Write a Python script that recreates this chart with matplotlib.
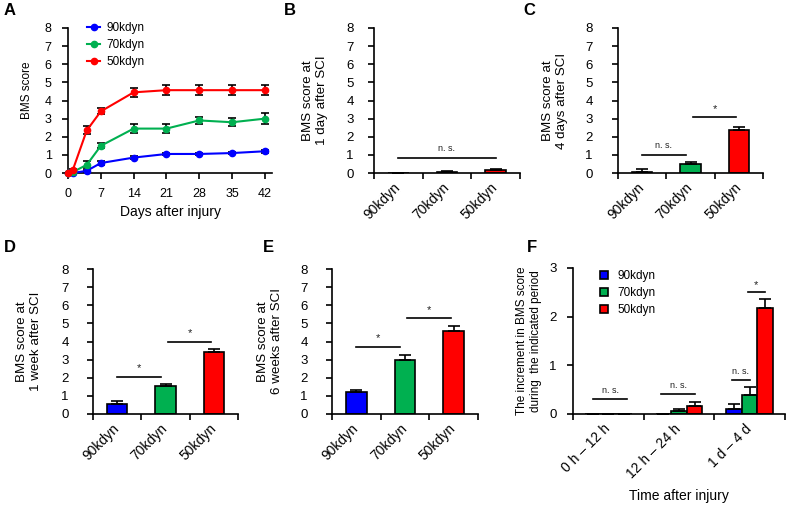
import numpy as np
import matplotlib.pyplot as plt

plt.rcParams['font.family'] = ['Liberation Sans', 'DejaVu Sans']
plt.rcParams['axes.linewidth'] = 1.2

GROUPS = ["90kdyn", "70kdyn", "50kdyn"]
COLORS = ["#0000ff", "#00b050", "#ff0000"]

# panel A: time course
DAYS = [0, 1, 4, 7, 14, 21, 28, 35, 42]
bms_90 = [0, 0, 0.12, 0.55, 0.85, 1.05, 1.05, 1.1, 1.2]
bms_90_err = [0, 0, 0.05, 0.12, 0.07, 0.07, 0.07, 0.07, 0.07]
bms_70 = [0, 0.05, 0.45, 1.5, 2.45, 2.45, 2.9, 2.8, 3.0]
bms_70_err = [0, 0.03, 0.2, 0.13, 0.27, 0.25, 0.2, 0.22, 0.3]
bms_50 = [0, 0.15, 2.35, 3.4, 4.45, 4.57, 4.57, 4.57, 4.57]
bms_50_err = [0, 0.06, 0.22, 0.17, 0.24, 0.29, 0.29, 0.29, 0.29]

# panels B-E: single time points
day1 = [0, 0.07, 0.18]
day1_err = [0, 0.03, 0.06]
day4 = [0.07, 0.47, 2.35]
day4_err = [0.13, 0.13, 0.21]
week1 = [0.57, 1.52, 3.41]
week1_err = [0.13, 0.11, 0.17]
week6 = [1.21, 3.0, 4.58]
week6_err = [0.11, 0.28, 0.27]

# panel F: increments
PERIODS = ["0 h \u2013 12 h", "12 h \u2013 24 h", "1 d \u2013 4 d"]
inc_90 = [0, 0, 0.1]
inc_90_err = [0, 0, 0.1]
inc_70 = [0, 0.055, 0.39]
inc_70_err = [0, 0.055, 0.17]
inc_50 = [0, 0.17, 2.18]
inc_50_err = [0, 0.08, 0.19]

W, H = 787, 505
fig = plt.figure(figsize=(W / 100, H / 100), dpi=100)


def px_axes(x0, x1, ytop, ybot):
    ax = fig.add_axes([x0 / W, 1 - ybot / H, (x1 - x0) / W, (ybot - ytop) / H])
    ax._px = (x0, x1, ytop, ybot)
    return ax


def style(ax, ypad_px, fs=9.5):
    for s in ["top", "right"]:
        ax.spines[s].set_visible(False)
    ax.tick_params(direction="out", length=4.5, width=1.2, labelsize=fs)
    ax.tick_params(axis="y", pad=ypad_px * 0.72)


def ylabel_at(ax, text, right_px, fs, yc=0.5):
    x0, x1, _, _ = ax._px
    ax.set_ylabel(text, fontsize=fs, linespacing=1.2)
    ax.yaxis.set_label_coords((right_px - x0) / (x1 - x0), yc)


def cat_ticks(ax, labels, fs=10):
    x = np.arange(len(labels))
    ax.set_xlim(-0.5, len(labels) - 0.5)
    ax.set_xticks(np.arange(len(labels) + 1) - 0.5)
    ax.set_xticklabels([])
    ax.set_xticks(x, minor=True)
    ax.set_xticklabels(labels, minor=True, rotation=45, ha="right", va="center",
                       rotation_mode="anchor", fontsize=fs)
    ax.tick_params(axis="x", which="minor", length=0, pad=9)


def sig(ax, x0, x1, y, txt, off, fs):
    ax.plot([x0, x1], [y, y], color="black", lw=1.2, clip_on=False)
    ax.text((x0 + x1) / 2, y + off, txt, ha="center", va="bottom", fontsize=fs,
            color="#222222")


ERR_KW = dict(elinewidth=1.2, capthick=1.2, ecolor="black")


def bar_panel(ax, vals, errs, lines):
    x = np.arange(len(GROUPS))
    ax.bar(x, vals, width=0.42, color=COLORS, edgecolor="black", linewidth=1.2,
           yerr=[np.zeros(len(errs)), errs], capsize=4, error_kw=ERR_KW)
    ax.set_ylim(0, 8)
    ax.set_yticks(range(0, 9))
    cat_ticks(ax, GROUPS)
    for x0, x1, y, t in lines:
        if t == "n. s.":
            sig(ax, x0, x1, y, t, 0.25, 6.5)
        else:
            sig(ax, x0, x1, y, t, 0.2, 8)


# A
axA = px_axes(68, 272, 28, 173)
style(axA, 10, fs=9)
for vals, errs, c, lab in [(bms_90, bms_90_err, COLORS[0], GROUPS[0]),
                           (bms_70, bms_70_err, COLORS[1], GROUPS[1]),
                           (bms_50, bms_50_err, COLORS[2], GROUPS[2])]:
    axA.errorbar(DAYS, vals, yerr=errs, color=c, lw=1.5, marker="o", ms=4.5,
                 ecolor="black", elinewidth=1.2, capsize=3, capthick=1.2,
                 label=lab, clip_on=False, zorder=3)
axA.set_xlim(0, 43.5)
axA.set_ylim(0, 8)
axA.set_xticks(range(0, 43, 7))
axA.set_yticks(range(0, 9))
axA.tick_params(axis="x", pad=6)
axA.set_xlabel("Days after injury", fontsize=10, labelpad=4)
ylabel_at(axA, "BMS score", 33, 8.5, yc=0.57)
handles, labels = axA.get_legend_handles_labels()
handles = [h[0] for h in handles]
axA.legend(handles, labels, loc="upper left", bbox_to_anchor=(0.095, 1.043),
           frameon=False, fontsize=8.5, handlelength=1.1, labelspacing=0.45,
           handletextpad=0.5, borderpad=0, borderaxespad=0)

# B
axB = px_axes(374, 520, 28, 173)
style(axB, 14)
bar_panel(axB, day1, day1_err, [(0, 2, 0.85, "n. s.")])
ylabel_at(axB, "BMS score at\n1 day after SCI", 328, 9.6)

# C
axC = px_axes(618, 763, 28, 173)
style(axC, 19)
bar_panel(axC, day4, day4_err, [(0, 0.9, 1.02, "n. s."), (1.05, 1.95, 3.07, "*")])
ylabel_at(axC, "BMS score at\n4 days after SCI", 568, 9.6)

# D
axD = px_axes(93, 238, 269, 414)
style(axD, 18)
bar_panel(axD, week1, week1_err, [(0, 0.9, 2.05, "*"), (1.05, 1.95, 4.0, "*")])
ylabel_at(axD, "BMS score at\n1 week after SCI", 42, 9.6)

# E
axE = px_axes(332, 478, 269, 414)
style(axE, 18)
bar_panel(axE, week6, week6_err, [(0, 0.9, 3.7, "*"), (1.05, 1.95, 5.27, "*")])
ylabel_at(axE, "BMS score at\n6 weeks after SCI", 283, 9.6)

# F
axF = px_axes(573, 785, 268, 414)
style(axF, 10)
xg = np.arange(len(PERIODS))
bw = 0.22
for k, (vals, errs) in enumerate([(inc_90, inc_90_err), (inc_70, inc_70_err),
                                  (inc_50, inc_50_err)]):
    axF.bar(xg + (k - 1) * bw, vals, width=bw, color=COLORS[k], edgecolor="black",
            linewidth=1.2, yerr=[np.zeros(len(errs)), errs], capsize=4,
            error_kw=ERR_KW, label=GROUPS[k])
axF.set_ylim(0, 3)
axF.set_yticks([0, 1, 2, 3])
cat_ticks(axF, PERIODS)
ylabel_at(axF, "The increment in BMS score\nduring  the indicated period", 542, 8.5)
axF.set_xlabel("Time after injury", fontsize=10)
axF.xaxis.set_label_coords(0.5, -0.514)
for x0, x1, y, t in [(-0.22, 0.27, 0.31, "n. s."), (0.75, 1.23, 0.41, "n. s."),
                     (1.75, 2.0, 0.70, "n. s."), (1.97, 2.22, 2.5, "*")]:
    if t == "n. s.":
        sig(axF, x0, x1, y, t, 0.08, 6.5)
    else:
        sig(axF, x0, x1, y, t, 0.05, 8)
axF.legend(loc="upper left", bbox_to_anchor=(0.127, 0.988), frameon=False,
           fontsize=8.5, handlelength=0.65, handleheight=0.65, labelspacing=0.45,
           handletextpad=0.85, borderpad=0, borderaxespad=0)

# panel letters
for lab, x, y in [("A", 4, 3), ("B", 284, 3), ("C", 523, 3),
                  ("D", 4, 240), ("E", 263, 240), ("F", 527, 240)]:
    fig.text(x / W, 1 - y / H, lab, fontsize=12, fontweight="bold", va="top")

fig.savefig("out.png", dpi=100)
